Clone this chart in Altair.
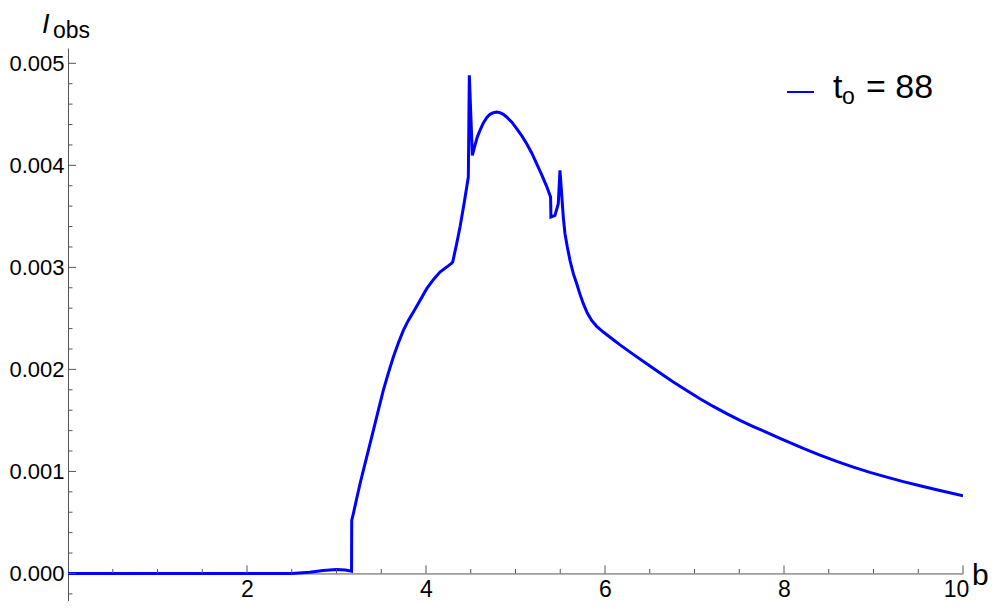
import altair as alt
import pandas as pd

# ---- data ----
b_vals = [0, 2.50, 2.70, 2.85, 3.00, 3.10, 3.168,
          3.170, 3.188, 3.225, 3.263, 3.300, 3.356, 3.412, 3.467, 3.523, 3.579,
          3.635, 3.691, 3.747, 3.803, 3.859, 3.933, 4.008, 4.082, 4.156, 4.231, 4.287,
          4.298, 4.343, 4.380, 4.425, 4.473, 4.484, 4.518,
          4.547, 4.573, 4.603, 4.641, 4.678, 4.715, 4.752, 4.790, 4.827, 4.864,
          4.901, 4.957, 5.013, 5.069, 5.125, 5.181, 5.236, 5.292, 5.348, 5.392,
          5.396, 5.441, 5.478, 5.497,
          5.534, 5.553, 5.579, 5.609, 5.646, 5.684, 5.721, 5.758, 5.802, 5.851,
          5.907, 5.981, 6.093, 6.168, 6.316, 6.466, 6.615, 6.763, 6.913, 7.061,
          7.210, 7.360, 7.508, 7.657, 7.806, 7.955, 8.216, 8.402, 8.589, 8.775,
          8.961, 9.148, 9.333, 9.520, 9.706, 10.0]
I_vals = [0, 0, 0.000012, 0.000030, 0.000038, 0.000033, 0.000022,
          0.000520, 0.000585, 0.000732, 0.000879, 0.001010, 0.001206, 0.001402, 0.001598, 0.001794, 0.001964,
          0.002121, 0.002258, 0.002382, 0.002480, 0.002562, 0.002676, 0.002791, 0.002879, 0.002954, 0.003003, 0.003042,
          0.003052, 0.003232, 0.003395, 0.003624, 0.003885, 0.004882, 0.004098,
          0.004196, 0.004277, 0.004343, 0.004415, 0.004467, 0.004500, 0.004516, 0.004523, 0.004516, 0.004500,
          0.004474, 0.004425, 0.004359, 0.004291, 0.004212, 0.004121, 0.004016, 0.003908, 0.003794, 0.003689,
          0.003493, 0.003510, 0.003624, 0.003951,
          0.003493, 0.003330, 0.003199, 0.003069, 0.002938, 0.002840, 0.002735, 0.002644, 0.002552, 0.002480,
          0.002422, 0.002366, 0.002290, 0.002240, 0.002147, 0.002056, 0.001964, 0.001876, 0.001794, 0.001713,
          0.001637, 0.001566, 0.001500, 0.001440, 0.001383, 0.001325, 0.001226, 0.001160, 0.001098, 0.001042,
          0.000991, 0.000944, 0.000900, 0.000859, 0.000820, 0.000760]

x_major = [2, 4, 6, 8, 10]
x_minor = [0.5, 1, 1.5, 2.5, 3, 3.5, 4.5, 5, 5.5, 6.5, 7, 7.5, 8.5, 9, 9.5]
y_major = [0.000, 0.001, 0.002, 0.003, 0.004, 0.005]
y_minor = [-0.0002, 0.0002, 0.0004, 0.0006, 0.0008, 0.0012, 0.0014, 0.0016, 0.0018,
           0.0022, 0.0024, 0.0026, 0.0028, 0.0032, 0.0034, 0.0036, 0.0038,
           0.0042, 0.0044, 0.0046, 0.0048]
legend_value = "= 88"

# ---- layout ----
FONT = "Liberation Sans"
X_DOM = [0, 10]
Y_DOM = [-0.00027, 0.00515]
W, H = 895, 553
px_x = W / (X_DOM[1] - X_DOM[0])
px_y = H / (Y_DOM[1] - Y_DOM[0])
AX_COL = "#555555"

xs = alt.Scale(domain=X_DOM, nice=False, zero=False)
ys = alt.Scale(domain=Y_DOM, nice=False, zero=False)

x_axis = alt.Axis(
    values=x_major, format="d", title=None, grid=False, ticks=False, tickSize=0,
    labelFontSize=23, labelFont=FONT, labelColor="black", labelPadding=5,
    labelOffset={"condition": {"test": "datum.value == 10", "value": -7}, "value": 0},
    domainColor=AX_COL, domainWidth=1, labelFlush=False, labelOverlap=False,
    offset=-(0 - Y_DOM[0]) * px_y)
y_axis = alt.Axis(
    values=y_major, format=".3f", title=None, grid=False, ticks=False, tickSize=0,
    labelFontSize=22, labelFont=FONT, labelColor="black", labelPadding=4,
    domainColor=AX_COL, domainWidth=1, labelFlush=False, labelOverlap=False)

df = pd.DataFrame({"b": b_vals, "I": I_vals, "i": range(len(b_vals))})

line = alt.Chart(df).mark_line(color="#0000ff", strokeWidth=3, clip=True).encode(
    x=alt.X("b:Q", scale=xs, axis=x_axis),
    y=alt.Y("I:Q", scale=ys, axis=y_axis),
    order="i:Q",
)

# inward tick marks
xt = pd.DataFrame({"b": x_major + x_minor,
                   "I": [0.0] * (len(x_major) + len(x_minor)),
                   "I2": [8 / px_y] * len(x_major) + [4.5 / px_y] * len(x_minor)})
yt = pd.DataFrame({"I": y_major + y_minor,
                   "b": [0.0] * (len(y_major) + len(y_minor)),
                   "b2": [8 / px_x] * len(y_major) + [4.5 / px_x] * len(y_minor)})

xticks = alt.Chart(xt).mark_rule(color=AX_COL, strokeWidth=1).encode(
    x=alt.X("b:Q", scale=xs, axis=x_axis),
    y=alt.Y("I:Q", scale=ys, axis=y_axis),
    y2="I2:Q",
)
yticks = alt.Chart(yt).mark_rule(color=AX_COL, strokeWidth=1).encode(
    y=alt.Y("I:Q", scale=ys, axis=y_axis),
    x=alt.X("b:Q", scale=xs, axis=x_axis),
    x2="b2:Q",
)


def label(txt, x, y, size, style="normal"):
    return alt.Chart(pd.DataFrame({"t": [txt]})).mark_text(
        font=FONT, fontSize=size, fontStyle=style, align="left",
        baseline="alphabetic", color="black").encode(
        x=alt.value(x), y=alt.value(y), text="t:N")


title_I = label("I", -26, -15, 27, "italic")
title_obs = label("obs", -15, -10, 23)
x_title = label("b", 904, 537, 30)

legend_line = alt.Chart(pd.DataFrame({"k": [0]})).mark_rule(
    color="#0000ff", strokeWidth=2).encode(
    x=alt.value(719), x2=alt.value(746), y=alt.value(44))
leg_t = label("t", 765, 50, 34)
leg_o = label("o", 774, 56, 23)
leg_v = label(legend_value, 798, 50, 34)

chart = alt.layer(
    line, xticks, yticks, title_I, title_obs, x_title,
    legend_line, leg_t, leg_o, leg_v,
).properties(
    width=W, height=H,
    autosize=alt.AutoSizeParams(type="none"),
    padding={"left": 60, "top": 40, "right": 26, "bottom": 0},
    background="white",
).configure_view(stroke=None)

chart.save("out.html", embed_options={"renderer": "svg", "actions": False})
